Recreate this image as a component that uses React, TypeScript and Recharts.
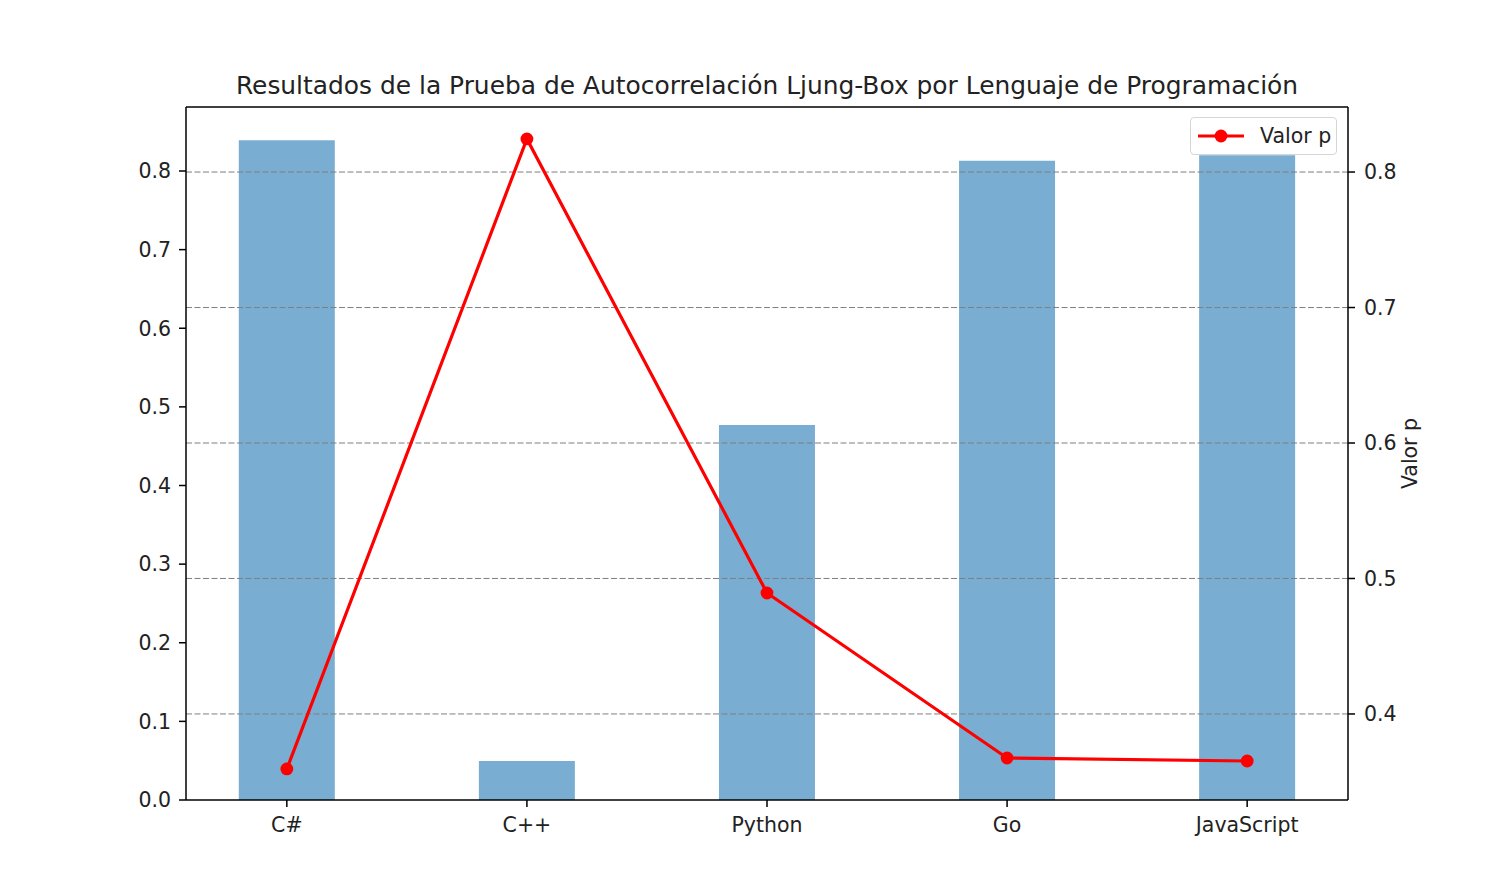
import React from 'react';
import {
    ComposedChart,
    Bar,
    Line,
    XAxis,
    YAxis,
    ReferenceLine,
    Legend,
} from 'recharts';

// categories and values
const languages = ['C#', 'C++', 'Python', 'Go', 'JavaScript'];
const statValues = [0.839, 0.0495, 0.477, 0.813, 0.820];
const pValues = [0.3594, 0.8244, 0.4893, 0.3675, 0.3653];

const leftTicks = [0, 0.1, 0.2, 0.3, 0.4, 0.5, 0.6, 0.7, 0.8];
const rightTicks = [0.4, 0.5, 0.6, 0.7, 0.8];
const xTicks = [0, 1, 2, 3, 4];

const LEFT_MAX = 0.8814;
const FONT = '"DejaVu Sans", sans-serif';

const data = languages.map((name, i) => ({
    x: i,
    name,
    stat: statValues[i],
    p: pValues[i],
}));

const tickStyle = { fontFamily: FONT, fontSize: 20.5, fill: '#222' };

function RightLabel(props: any) {
    const vb = props.viewBox || {};
    const cx = vb.x + 62;
    const cy = vb.y + vb.height / 2;
    return (
        <text
            x={cx}
            y={cy}
            transform={`rotate(-90, ${cx}, ${cy})`}
            textAnchor="middle"
            dominantBaseline="central"
            style={{ fontFamily: FONT, fontSize: 20.5, fill: '#222' }}
        >
            Valor p
        </text>
    );
}

function LegendBox() {
    return (
        <div
            style={{
                width: 147,
                height: 38,
                border: '1px solid #d6d6d6',
                borderRadius: 4,
                background: 'rgba(255,255,255,0.8)',
                display: 'flex',
                alignItems: 'center',
                boxSizing: 'border-box',
                fontFamily: FONT,
                fontSize: 20.5,
                color: '#222',
            }}
        >
            <svg width={58} height={20} style={{ marginLeft: 5 }}>
                <line x1={2} y1={10} x2={48} y2={10} stroke="#ff0000" strokeWidth={3} />
                <circle cx={25} cy={10} r={6.4} fill="#ff0000" />
            </svg>
            <span style={{ marginLeft: 6 }}>Valor p</span>
        </div>
    );
}

export default function App() {
    return (
        <div style={{ position: 'absolute', left: 0, top: 0, width: 1496, height: 896, background: '#fff' }}>
            <div
                style={{
                    position: 'absolute',
                    left: 0,
                    width: 1534,
                    top: 71,
                    textAlign: 'center',
                    fontFamily: FONT,
                    fontSize: 24.9,
                    color: '#222',
                    whiteSpace: 'nowrap',
                }}
            >
                Resultados de la Prueba de Autocorrelación Ljung-Box por Lenguaje de Programación
            </div>
            <ComposedChart
                width={1496}
                height={896}
                data={data}
                margin={{ top: 107, right: 88, bottom: 55, left: 126 }}
            >
                <XAxis
                    xAxisId="main"
                    dataKey="x"
                    type="number"
                    domain={[-0.42, 4.42]}
                    ticks={xTicks}
                    allowDataOverflow
                    tickFormatter={(v: number) => languages[v] ?? ''}
                    tick={tickStyle}
                    tickSize={7}
                    tickMargin={10}
                    height={41}
                    stroke="#000"
                    strokeWidth={1.5}
                    interval={0}
                />
                <YAxis
                    yAxisId="left"
                    domain={[0, LEFT_MAX]}
                    ticks={leftTicks}
                    allowDataOverflow
                    tickFormatter={(v: number) => v.toFixed(1)}
                    tick={tickStyle}
                    tickSize={7}
                    tickMargin={8}
                    width={60}
                    stroke="#000"
                    strokeWidth={1.5}
                />
                <YAxis
                    yAxisId="right"
                    orientation="right"
                    domain={[0.3365, 0.848]}
                    ticks={rightTicks}
                    allowDataOverflow
                    tickFormatter={(v: number) => v.toFixed(1)}
                    tick={tickStyle}
                    tickSize={7}
                    tickMargin={9}
                    width={60}
                    stroke="#000"
                    strokeWidth={1.5}
                    label={<RightLabel />}
                />
                <Bar
                    xAxisId="main"
                    yAxisId="left"
                    dataKey="stat"
                    fill="#1f77b4"
                    fillOpacity={0.6}
                    barSize={96}
                    isAnimationActive={false}
                />
                {rightTicks.map(t => (
                    <ReferenceLine
                        key={t}
                        xAxisId="main"
                        yAxisId="right"
                        y={t}
                        stroke="#7f7f7f"
                        strokeWidth={1}
                        strokeDasharray="6 2.5"
                    />
                ))}
                {/* top spine */}
                <ReferenceLine xAxisId="main" yAxisId="left" y={LEFT_MAX} stroke="#000" strokeWidth={1.5} />
                <Line
                    xAxisId="main"
                    yAxisId="right"
                    dataKey="p"
                    stroke="#ff0000"
                    strokeWidth={3.2}
                    dot={{ r: 6.4, fill: '#ff0000', stroke: '#ff0000', strokeWidth: 0 }}
                    activeDot={false}
                    isAnimationActive={false}
                />
                <Legend
                    layout="horizontal"
                    verticalAlign="middle"
                    align="center"
                    content={<LegendBox />}
                    wrapperStyle={{ position: 'absolute', left: 1190, top: 117, width: 147 }}
                />
            </ComposedChart>
        </div>
    );
}
